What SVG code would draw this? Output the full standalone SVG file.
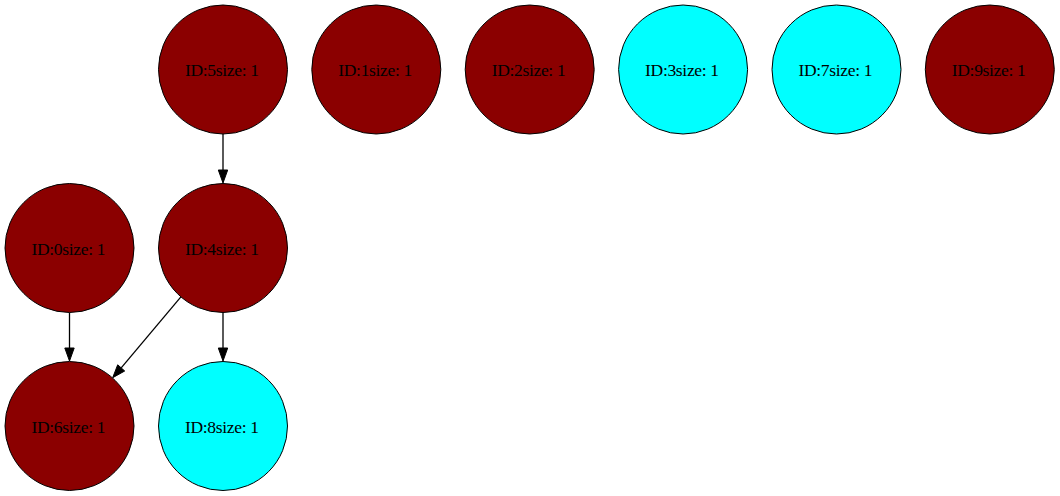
<svg xmlns="http://www.w3.org/2000/svg" width="1060" height="496" viewBox="0 0 1060 496">
<style>
.red{fill:#8b0000;stroke:#000;stroke-width:1}
.cyan{fill:#00ffff;stroke:#000;stroke-width:1}
text{font-family:"Liberation Serif","Times New Roman",serif;font-size:17.5px;fill:#000;text-anchor:middle}
.edge{stroke:#000;stroke-width:1.3;fill:none}
.head{fill:#000;stroke:#000;stroke-width:1}
</style>
<rect width="1060" height="496" fill="#fff"/>
<g id="connectors">
<line class="edge" x1="223" y1="134" x2="223" y2="170"/>
<polygon class="head" points="218.3,170 227.7,170 223,183"/>
<line class="edge" x1="69.5" y1="312.5" x2="69.5" y2="348"/>
<polygon class="head" points="64.8,348 74.2,348 69.5,361"/>
<line class="edge" x1="223" y1="312.5" x2="223" y2="348"/>
<polygon class="head" points="218.3,348 227.7,348 223,361"/>
<line class="edge" x1="180.9" y1="296.8" x2="121.2" y2="367.9"/>
<polygon class="head" points="124.7,371 117.7,364.8 112.7,377.7"/>
</g>
<g id="node5"><circle class="red" cx="223" cy="69.5" r="64.5"/><text x="222" y="76" textLength="74" lengthAdjust="spacing">ID:5size: 1</text></g>
<g id="node1"><circle class="red" cx="376.3" cy="69.5" r="64.5"/><text x="375.3" y="76" textLength="74" lengthAdjust="spacing">ID:1size: 1</text></g>
<g id="node2"><circle class="red" cx="529.7" cy="69.5" r="64.5"/><text x="528.7" y="76" textLength="74" lengthAdjust="spacing">ID:2size: 1</text></g>
<g id="node3"><circle class="cyan" cx="683.1" cy="69.5" r="64.5"/><text x="682.1" y="76" textLength="74" lengthAdjust="spacing">ID:3size: 1</text></g>
<g id="node7"><circle class="cyan" cx="836.5" cy="69.5" r="64.5"/><text x="835.5" y="76" textLength="74" lengthAdjust="spacing">ID:7size: 1</text></g>
<g id="node9"><circle class="red" cx="989.8" cy="69.5" r="64.5"/><text x="988.8" y="76" textLength="74" lengthAdjust="spacing">ID:9size: 1</text></g>
<g id="node0"><circle class="red" cx="69.5" cy="248" r="64.5"/><text x="68.5" y="254.5" textLength="74" lengthAdjust="spacing">ID:0size: 1</text></g>
<g id="node4"><circle class="red" cx="223" cy="248" r="64.5"/><text x="222" y="254.5" textLength="74" lengthAdjust="spacing">ID:4size: 1</text></g>
<g id="node6"><circle class="red" cx="69.5" cy="426" r="64.5"/><text x="68.5" y="432.5" textLength="74" lengthAdjust="spacing">ID:6size: 1</text></g>
<g id="node8"><circle class="cyan" cx="223" cy="426" r="64.5"/><text x="222" y="432.5" textLength="74" lengthAdjust="spacing">ID:8size: 1</text></g>
</svg>
